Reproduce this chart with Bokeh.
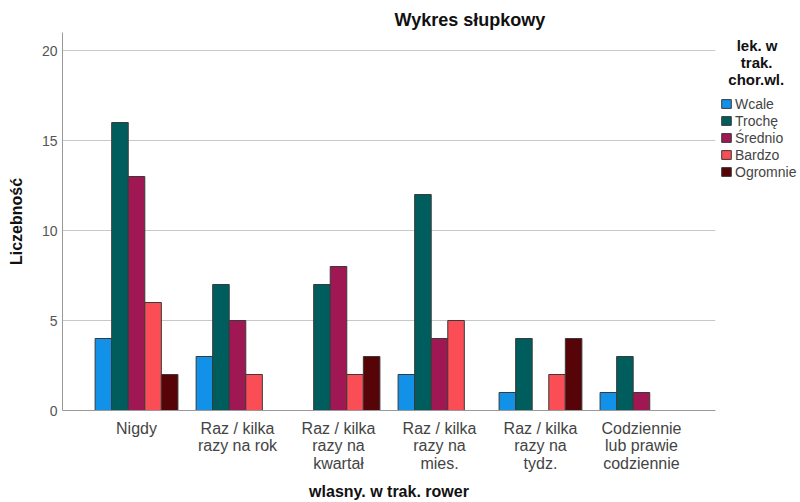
from bokeh.plotting import figure
from bokeh.models import (ColumnDataSource, FactorRange, Range1d, FixedTicker, Legend,
                          LegendItem, Title)
from bokeh.transform import dodge
from bokeh.embed import file_html
from bokeh.resources import INLINE

categories = ["Nigdy", "Raz / kilka\nrazy na rok", "Raz / kilka\nrazy na\nkwartał",
              "Raz / kilka\nrazy na\nmies.", "Raz / kilka\nrazy na\ntydz.",
              "Codziennie\nlub prawie\ncodziennie"]
series = ["Wcale", "Trochę", "Średnio", "Bardzo", "Ogromnie"]
wcale = [4, 3, 0, 2, 1, 1]
troche = [16, 7, 7, 12, 4, 3]
srednio = [13, 5, 8, 4, 0, 1]
bardzo = [6, 2, 2, 5, 2, 0]
ogromnie = [2, 0, 3, 0, 4, 0]
colors = ["#1192e8", "#005d5d", "#9f1853", "#fa4d56", "#570408"]
y_ticks = [0, 5, 10, 15, 20]
NB = "\u00a0"
legend_title = NB * 4 + "lek. w\n" + NB * 5 + "trak.\n" + NB * 2 + "chor.wl."

FONT = "Liberation Sans"
FL, FT = 54, 32
FW, FH = 653, 378
RB, BB = 76, 80

source = ColumnDataSource(dict(cat=categories, Wcale=wcale, Troche=troche,
                               Srednio=srednio, Bardzo=bardzo, Ogromnie=ogromnie))
fields = ["Wcale", "Troche", "Srednio", "Bardzo", "Ogromnie"]

xr = FactorRange(factors=categories, range_padding=0.233, range_padding_units="absolute")
p = figure(frame_width=FW, frame_height=FH, x_range=xr, y_range=Range1d(0, 21),
           output_backend="svg", toolbar_location=None,
           min_border_left=FL, min_border_right=RB,
           min_border_top=FT, min_border_bottom=BB)
p.margin = (0, 0, 0, 4)
p.outline_line_color = None
p.background_fill_color = "white"
p.border_fill_color = "white"

bw = 0.164
items = []
for j, (f, name, c) in enumerate(zip(fields, series, colors)):
    r = p.vbar(x=dodge("cat", (j - 2) * bw, range=p.x_range), top=f, width=bw,
               source=source, fill_color=c, line_color="#3a3a3a", line_width=1)
    items.append(LegendItem(label=name, renderers=[r]))

# title
t = Title(text="Wykres słupkowy", align="left", offset=332,
          text_font=FONT, text_font_size="18px", text_font_style="bold",
          text_color="#111111", standoff=6)
p.add_layout(t, "above")

# axes
p.xaxis.axis_label = "wlasny. w trak. rower"
p.yaxis.axis_label = "Liczebność"
for ax in (p.xaxis, p.yaxis):
    ax.axis_label_text_font = FONT
    ax.axis_label_text_font_style = "bold"
    ax.axis_label_text_color = "#111111"
    ax.major_tick_line_color = None
    ax.minor_tick_line_color = None
    ax.major_tick_out = 0
    ax.major_tick_in = 0
    ax.minor_tick_out = 0
    ax.minor_tick_in = 0
    ax.axis_line_color = "#999999"
    ax.major_label_text_font = FONT
p.xaxis.axis_label_text_font_size = "16px"
p.yaxis.axis_label_text_font_size = "16px"
p.xaxis.major_label_text_font_size = "16px"
p.xaxis.major_label_text_color = "#444444"
p.xaxis.major_label_text_line_height = 1.05
p.xaxis.major_label_standoff = 9
p.xaxis.axis_label_standoff = 8
p.yaxis.major_label_text_font_size = "14px"
p.yaxis.major_label_text_color = "#555555"
p.yaxis.major_label_standoff = 5
p.yaxis.axis_label_standoff = 14
p.yaxis.ticker = FixedTicker(ticks=y_ticks)
p.xgrid.grid_line_color = None
p.ygrid.grid_line_color = "#c8c8c8"
p.ygrid.ticker = FixedTicker(ticks=y_ticks[1:])

legend = Legend(items=items, location="top_left", orientation="vertical",
                title=legend_title, title_text_font=FONT, title_text_font_size="15px",
                title_text_font_style="bold", title_text_color="#111111",
                title_standoff=7,
                border_line_color=None, background_fill_color=None,
                label_text_font=FONT, label_text_font_size="14px",
                label_text_color="#444444", glyph_width=12, glyph_height=11,
                label_height=17, label_standoff=3, spacing=0, padding=0, margin=5)
p.add_layout(legend, "right")

open("out.html", "w").write(file_html(p, INLINE))
